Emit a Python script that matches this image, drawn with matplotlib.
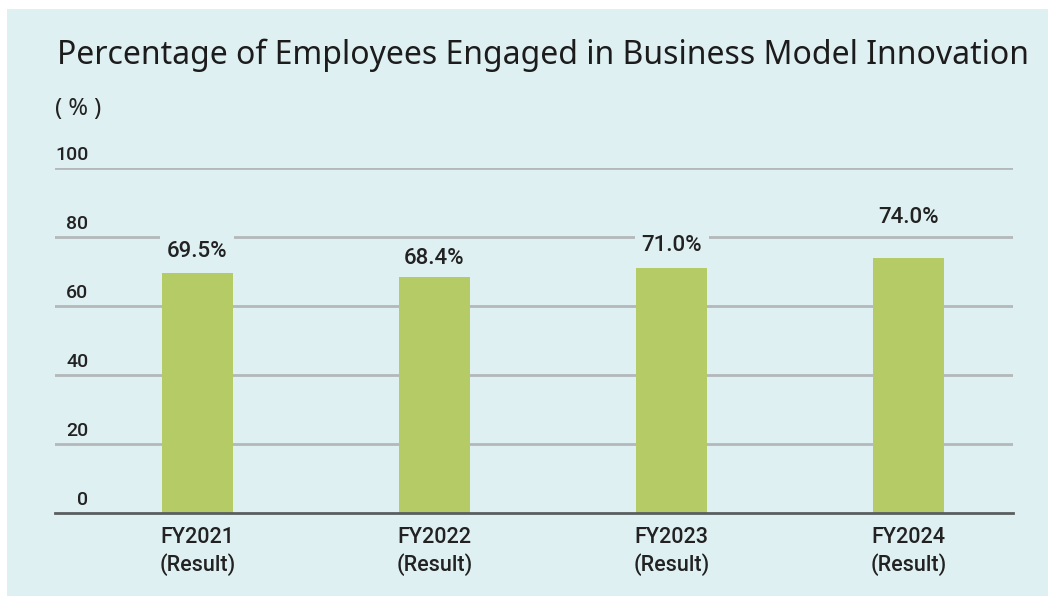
import matplotlib
matplotlib.use("Agg")
import matplotlib.pyplot as plt
from matplotlib.patches import Rectangle

# Data
categories = ["FY2021\n(Result)", "FY2022\n(Result)", "FY2023\n(Result)", "FY2024\n(Result)"]
values = [69.5, 68.4, 71.0, 74.0]
value_labels = ["69.5%", "68.4%", "71.0%", "74.0%"]
yticks = [0, 20, 40, 60, 80, 100]
label_offsets_pt = [15.5, 13, 16.5, 29]

title = "Percentage of Employees Engaged in Business Model Innovation"
unit_label = "( % )"

BG = "#dff0f3"
BAR = "#b5cc66"
GRID = "#b4b8ba"
AXIS = "#5a5e60"
TEXT = "#222222"

W, H = 1048, 596
fig = plt.figure(figsize=(W / 100, H / 100), dpi=100)
fig.patch.set_facecolor("white")

# light-blue panel behind everything
fig.patches.append(Rectangle((7 / W, 0), 1 - 7 / W, 1 - 9 / H,
                             transform=fig.transFigure, facecolor=BG,
                             edgecolor="none", zorder=-5))

# axes placement in pixel terms
x0, x1 = 55, 1013
y_top, y_bot = 168, 513
ax = fig.add_axes([x0 / W, 1 - y_bot / H, (x1 - x0) / W, (y_bot - y_top) / H])
ax.set_facecolor("none")
ax.set_zorder(2)

xs = range(len(values))
ax.bar(xs, values, width=0.30, color=BAR, zorder=2)
ax.set_xlim(-0.6, 3.44)
ax.set_ylim(0, 100)

for y in yticks[1:]:
    ax.axhline(y, color=GRID, linewidth=2, zorder=1)
for s in ["top", "right", "left"]:
    ax.spines[s].set_visible(False)
ax.spines["bottom"].set_color(AXIS)
ax.spines["bottom"].set_linewidth(2)
ax.spines["bottom"].set_zorder(3)

ax.set_yticks([])
ax.set_xticks(list(xs))
ax.set_xticklabels(categories, fontsize=15.5, color=TEXT, family="Roboto",
                   fontweight="medium", linespacing=1.3)
ax.tick_params(axis="x", length=0, pad=10)

# y tick labels sit just above each gridline, right-aligned
for y in yticks:
    ax.annotate(str(y), xy=(0, y), xycoords=("axes fraction", "data"),
                xytext=(24, 3), textcoords="offset points",
                ha="right", va="bottom", fontsize=14, color=TEXT,
                family="Roboto", fontweight="medium")

# value labels above the bars
for x, v, lab, off in zip(xs, values, value_labels, label_offsets_pt):
    ax.annotate(lab, xy=(x, v), xytext=(0, off), textcoords="offset points",
                ha="center", va="center", fontsize=16, color=TEXT,
                family="Roboto", fontweight="medium", zorder=4,
                bbox=dict(boxstyle="square,pad=0.3", facecolor=BG,
                          edgecolor="none"))

fig.text(57 / W, 1 - 55 / H, title, ha="left", va="center",
         fontsize=23, color="#1c1c1c", family="Noto Sans", fontweight="medium")
fig.text(55 / W, 1 - 109 / H, unit_label, ha="left", va="center",
         fontsize=17, color=TEXT, family="Noto Sans")

fig.savefig("out.png", dpi=100, facecolor=fig.get_facecolor())
